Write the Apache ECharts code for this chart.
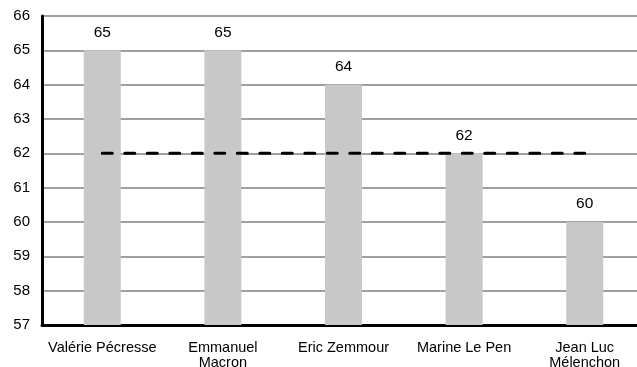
<!DOCTYPE html>
<html>
<head>
<meta charset="utf-8">
<script src="https://cdn.jsdelivr.net/npm/echarts@6/dist/echarts.min.js"></script>
<style>
  html, body { margin: 0; padding: 0; background: #fff; overflow: hidden; }
  #chart { width: 645px; height: 367px; }
</style>
</head>
<body>
<div id="chart"></div>
<script>
// Candidates and their scores
const categories = ['Valérie Pécresse', 'Emmanuel\nMacron', 'Eric Zemmour', 'Marine Le Pen', 'Jean Luc\nMélenchon'];
const scores = [65, 65, 64, 62, 60];
// Reference level drawn as a dashed line across the bars
const referenceLevel = [62, 62, 62, 62, 62];
const yMin = 57;
const yMax = 66;
const yStep = 1;

const chart = echarts.init(document.getElementById('chart'), null, { renderer: 'canvas' });
const font = 'Liberation Sans, Arial, sans-serif';

chart.setOption({
  animation: false,
  backgroundColor: '#ffffff',
  grid: { left: 42, top: 16, right: 0, height: 309, containLabel: false, outerBoundsMode: 'none' },
  xAxis: {
    type: 'category',
    data: categories,
    boundaryGap: true,
    axisLine: { show: true, lineStyle: { color: '#000', width: 3 } },
    axisTick: { show: false },
    axisLabel: { color: '#000', fontFamily: font, fontSize: 14.5, margin: 15, lineHeight: 15, interval: 0 },
    splitLine: { show: false }
  },
  yAxis: {
    type: 'value',
    min: yMin,
    max: yMax,
    interval: yStep,
    axisLine: { show: true, lineStyle: { color: '#000', width: 3 } },
    axisTick: { show: false },
    axisLabel: { color: '#000', fontFamily: font, fontSize: 15, margin: 12 },
    splitLine: { show: true, lineStyle: { color: '#a0a0a0', width: 2 } }
  },
  series: [
    {
      type: 'bar',
      data: scores,
      barWidth: 37,
      itemStyle: { color: '#c8c8c8' },
      label: { show: true, position: 'top', distance: 10, color: '#000', fontFamily: font, fontSize: 15.5 },
      z: 2
    },
    {
      type: 'line',
      data: referenceLevel,
      symbol: 'none',
      lineStyle: { color: '#000', width: 3, type: [10, 12.5], cap: 'round' },
      z: 3
    }
  ]
});
</script>
</body>
</html>
